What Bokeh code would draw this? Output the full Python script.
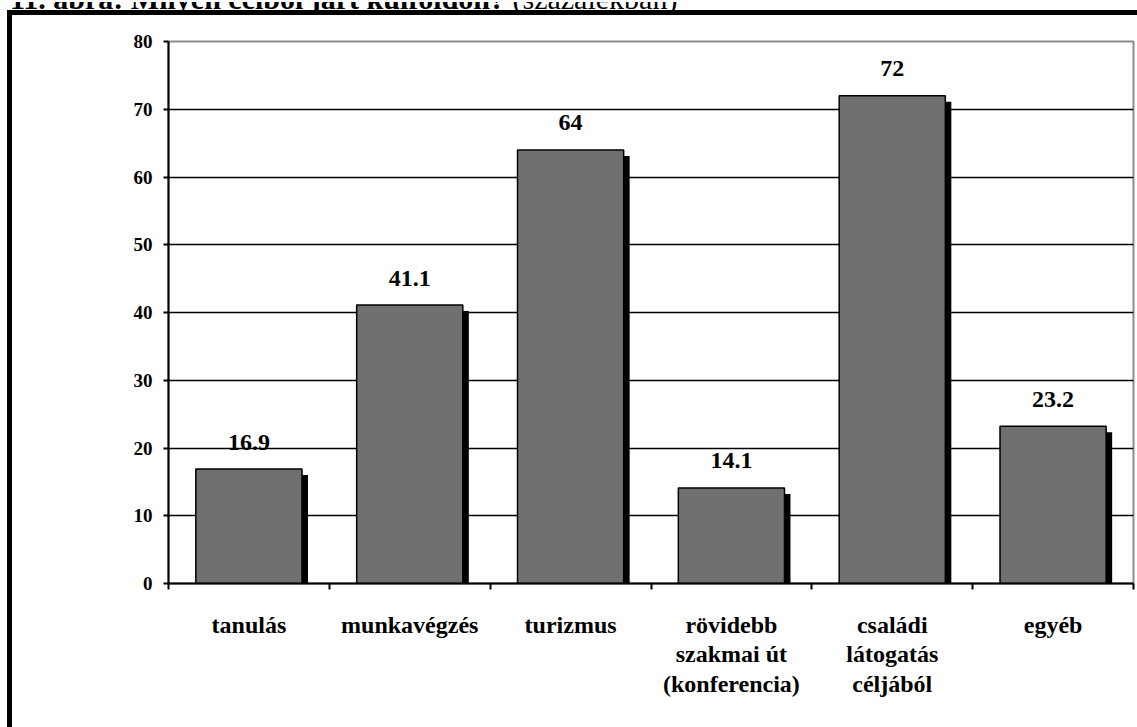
from bokeh.plotting import figure
from bokeh.layouts import column
from bokeh.models import Range1d, FixedTicker, ColumnDataSource, Div
from bokeh.embed import file_html
from bokeh.resources import INLINE
from bokeh.core.properties import value

# ---- data ----
categories = ["tanulás", "munkavégzés", "turizmus",
              "rövidebb\nszakmai út\n(konferencia)",
              "családi\nlátogatás\ncéljából", "egyéb"]
values = [16.9, 41.1, 64, 14.1, 72, 23.2]
value_labels = ["16.9", "41.1", "64", "14.1", "72", "23.2"]
y_ticks = [0, 10, 20, 30, 40, 50, 60, 70, 80]
title_bold = "11. ábra: Milyen célból járt külföldön?"
title_normal = "(százalékban)"

# ---- layout ----
W = 1137
TH = 10            # strip that holds the (cut-off) title line
H = 727 - TH
L, R, T, B = 168, 4, 31, 144
FW, FH = W - L - R, H - T - B
n = len(categories)
YMAX = 80
px_x = FW / n
px_y = FH / YMAX
FONT = "Liberation Serif"

centers = [i + 0.5 for i in range(n)]
bar_w = 0.66
sh_dx = 6 / px_x
sh_dy = 6 / px_y

src = ColumnDataSource(dict(
    x=centers,
    top=values,
    sx=[c + sh_dx for c in centers],
    stop=[v - sh_dy for v in values],
    lab=value_labels,
))

# ---- title strip (only the lower part of the title line is visible, as in the source) ----
title_html = (
    '<div style="position:relative;width:%dpx;height:%dpx;overflow:hidden;">'
    '<div style="position:absolute;left:10px;top:-18px;white-space:nowrap;'
    'font-family:\'Liberation Serif\';font-size:30px;line-height:30px;color:black;">'
    '<b>%s</b> <span style="font-weight:normal">%s</span></div></div>'
) % (W, TH, title_bold, title_normal)
title_div = Div(text=title_html, width=W, height=TH, margin=0,
                styles={"overflow": "hidden"})

# ---- chart ----
frame_styles = {
    "background-image": "linear-gradient(black, black), linear-gradient(black, black)",
    "background-size": "5px 100%, 100% 5px",
    "background-position": "7px 0px, 7px 0px",
    "background-repeat": "no-repeat",
}

p = figure(width=W, height=H, x_range=Range1d(0, n), y_range=Range1d(0, YMAX),
           output_backend="svg", toolbar_location=None,
           min_border_left=L, min_border_right=R, min_border_top=T, min_border_bottom=B,
           styles=frame_styles, margin=0)

p.background_fill_color = "white"
p.border_fill_alpha = 0
p.outline_line_color = "#8c8c8c"
p.outline_line_width = 2

p.xgrid.visible = False
p.ygrid.ticker = FixedTicker(ticks=[t for t in y_ticks if 0 < t < YMAX])
p.ygrid.grid_line_color = "black"
p.ygrid.grid_line_width = 1.5

p.vbar(x="sx", top="stop", width=bar_w, bottom=0, source=src,
       fill_color="black", line_color=None)
p.vbar(x="x", top="top", width=bar_w, bottom=0, source=src,
       fill_color="#707070", line_color="black", line_width=1.5)

p.text(x="x", y="top", text="lab", source=src, y_offset=-27,
       text_align="center", text_baseline="alphabetic",
       text_font=value(FONT), text_font_style="bold", text_font_size="24px",
       text_color="black")

ya = p.yaxis[0]
ya.ticker = FixedTicker(ticks=y_ticks)
ya.axis_line_color = "black"
ya.axis_line_width = 2
ya.major_tick_line_color = "black"
ya.major_tick_line_width = 2
ya.major_tick_out = 5
ya.major_tick_in = 0
ya.minor_tick_line_color = None
ya.major_label_standoff = 11
ya.major_label_text_font = FONT
ya.major_label_text_font_style = "bold"
ya.major_label_text_font_size = "19px"
ya.major_label_text_color = "black"

xa = p.xaxis[0]
xa.ticker = FixedTicker(ticks=centers, minor_ticks=list(range(n + 1)))
xa.major_label_overrides = {c: lab for c, lab in zip(centers, categories)}
xa.axis_line_color = "black"
xa.axis_line_width = 2
xa.major_tick_line_color = None
xa.major_tick_out = 0
xa.major_tick_in = 0
xa.minor_tick_line_color = "black"
xa.minor_tick_line_width = 2
xa.minor_tick_out = 6
xa.minor_tick_in = 0
xa.major_label_standoff = 22
xa.major_label_text_font = FONT
xa.major_label_text_font_style = "bold"
xa.major_label_text_font_size = "24px"
xa.major_label_text_line_height = 1.15
xa.major_label_text_color = "black"

layout = column(title_div, p, spacing=0, margin=0)
open("out.html", "w").write(file_html(layout, INLINE))
